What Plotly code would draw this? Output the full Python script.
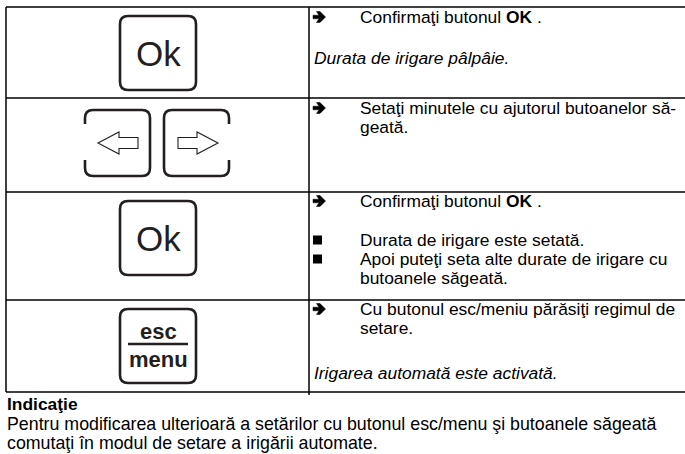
import plotly.graph_objects as go

# ---------------- content ----------------
step_icons = ["ok", "arrows", "ok", "escmenu"]
arrow_lines = [
    ["Confirmaţi butonul <b>OK</b> ."],
    ["Setaţi minutele cu ajutorul butoanelor să-", "geată."],
    ["Confirmaţi butonul <b>OK</b> ."],
    ["Cu butonul esc/meniu părăsiţi regimul de", "setare."],
]
bullet_lines = [
    [],
    [],
    [["Durata de irigare este setată."],
     ["Apoi puteţi seta alte durate de irigare cu", "butoanele săgeată."]],
    [],
]
italic_notes = ["Durata de irigare pâlpâie.", "", "", "Irigarea automată este activată."]
note_title = "Indicaţie"
note_lines = [
    "Pentru modificarea ulterioară a setărilor cu butonul esc/menu şi butoanele săgeată",
    "comutaţi în modul de setare a irigării automate.",
]
ok_label = "Ok"
esc_label = ("esc", "menu")

# ---------------- layout constants ----------------
W, H = 685, 454
FONT = "Liberation Sans, Arial, sans-serif"
TXT = 17.4
LH = 19
row_edges = [7, 98, 192, 300, 392]
X_LEFT, X_COL, X_RIGHT = 6, 309, 685
X_TEXT, X_ITAL = 358, 312
BTN = "#231f20"

fig = go.Figure()
shapes, ann = [], []

def line(x0, y0, x1, y1, w=1.5, c="black"):
    shapes.append(dict(type="line", x0=x0, y0=y0, x1=x1, y1=y1,
                       line=dict(color=c, width=w), layer="above"))

def rrect(x0, y0, x1, y1, r=8):
    return (f"M{x0+r},{y0} L{x1-r},{y0} Q{x1},{y0} {x1},{y0+r} L{x1},{y1-r} "
            f"Q{x1},{y1} {x1-r},{y1} L{x0+r},{y1} Q{x0},{y1} {x0},{y1-r} "
            f"L{x0},{y0+r} Q{x0},{y0} {x0+r},{y0} Z")

def path(p, w=2.6, fill=None, c=BTN):
    d = dict(type="path", path=p, line=dict(color=c, width=w), layer="above")
    if fill:
        d["fillcolor"] = fill
    shapes.append(d)

def text(x, y, s, size=TXT, xa="left", italic=False, color="black"):
    if italic:
        s = f"<i>{s}</i>"
    ann.append(dict(x=x, y=y, xref="x", yref="y", text=s, showarrow=False,
                    xanchor=xa, yanchor="middle",
                    font=dict(family=FONT, size=size, color=color)))

def arrow_glyph(y):
    x = 313
    p = (f"M{x},{y-1.8} L{x+6},{y-1.8} L{x+3.5},{y-5.5} L{x+7},{y-5.5} L{x+12.5},{y} "
         f"L{x+7},{y+5.5} L{x+3.5},{y+5.5} L{x+6},{y+1.8} L{x},{y+1.8} Z")
    path(p, w=0.5, fill="black", c="black")

def bullet(y):
    shapes.append(dict(type="rect", x0=313, x1=322, y0=y-4.5, y1=y+4.5,
                       fillcolor="black", line=dict(width=0), layer="above"))

# table lines
line(X_LEFT, row_edges[0], X_RIGHT, row_edges[0])
for y in row_edges[1:]:
    line(X_LEFT, y, X_RIGHT, y)
line(X_LEFT, row_edges[0], X_LEFT, row_edges[-1])
line(X_COL, row_edges[0], X_COL, row_edges[-1] + 3)

# icons
cx = 158
def ok_button(top):
    path(rrect(120, top, 196, top + 74))
    text(cx, top + 37, ok_label, size=35, xa="center", color="#231f20")

def arrow_buttons():
    t, b = 110, 176
    path(f"M85,124 L85,{t+8} Q85,{t} 93,{t} L142,{t} Q150,{t} 150,{t+8} "
         f"L150,{b-8} Q150,{b} 142,{b} L93,{b} Q85,{b} 85,{b-8} L85,160")
    path(f"M229,124 L229,{t+8} Q229,{t} 221,{t} L172,{t} Q164,{t} 164,{t+8} "
         f"L164,{b-8} Q164,{b} 172,{b} L221,{b} Q229,{b} 229,{b-8} L229,160")
    y = 143
    path(f"M98,{y} L119,{y-11} L119,{y-5.5} L138,{y-5.5} L138,{y+5.5} "
         f"L119,{y+5.5} L119,{y+11} Z", w=1.1)
    path(f"M218,{y} L197,{y-11} L197,{y-5.5} L178,{y-5.5} L178,{y+5.5} "
         f"L197,{y+5.5} L197,{y+11} Z", w=1.1)

def esc_button():
    top = 309
    path(rrect(120, top, 196, top + 74))
    text(cx, 331, f"<b>{esc_label[0]}</b>", size=22, xa="center", color="#231f20")
    line(128, 344, 188, 344, w=2.6, c=BTN)
    text(cx, 359, f"<b>{esc_label[1]}</b>", size=22, xa="center", color="#231f20")

for i, kind in enumerate(step_icons):
    top = row_edges[i]
    if kind == "ok":
        ok_button(top + 9)
    elif kind == "arrows":
        arrow_buttons()
    else:
        esc_button()

# right column text
first_line_y = [17, 108, 201, 309]
italic_y = [58, None, None, 373]
for i in range(len(step_icons)):
    y = first_line_y[i]
    arrow_glyph(y)
    for k, s in enumerate(arrow_lines[i]):
        text(X_TEXT, y + k * LH, s)
    if bullet_lines[i]:
        yb = 240
        for group in bullet_lines[i]:
            bullet(yb)
            for s in group:
                text(X_TEXT, yb, s)
                yb += LH
    if italic_notes[i]:
        text(X_ITAL, italic_y[i], italic_notes[i], size=17.4, italic=True)

# note below the table
text(5, 404, f"<b>{note_title}</b>")
for k, s in enumerate(note_lines):
    text(5, 424 + k * LH, s, size=17.8)

fig.update_layout(
    width=W, height=H, margin=dict(l=0, r=0, t=0, b=0),
    paper_bgcolor="white", plot_bgcolor="white",
    xaxis=dict(range=[0, W], visible=False, fixedrange=True),
    yaxis=dict(range=[H, 0], visible=False, fixedrange=True),
    shapes=shapes, annotations=ann, showlegend=False,
)
fig.write_html("out.html", config={"displayModeBar": False},
               post_script="document.body.style.margin='0';document.body.style.overflow='hidden';")
